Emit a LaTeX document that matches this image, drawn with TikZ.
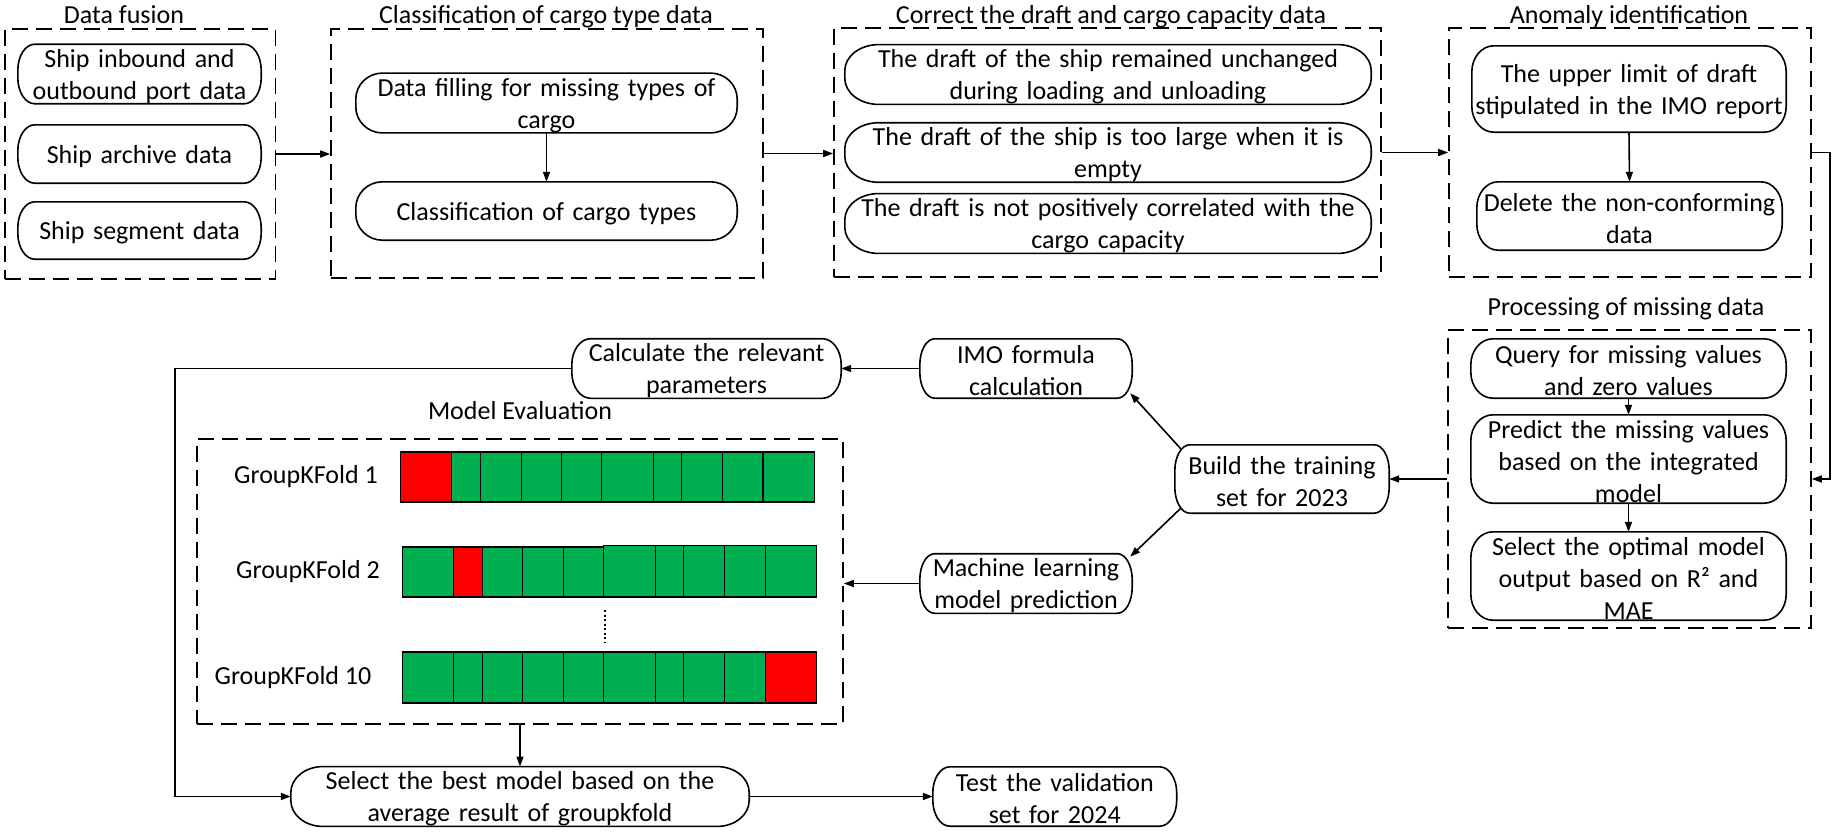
\documentclass[tikz,border=0pt]{standalone}
\usepackage{fontspec}
\setmainfont{Carlito}
\usetikzlibrary{arrows.meta,calc}
\definecolor{kgreen}{HTML}{00B050}
\definecolor{kred}{HTML}{FF0000}
\newcommand\pillshape[1]{%
  \draw[ln] let \p1=(#1.north west), \p2=(#1.south east),
    \n1={min(34pt,0.07*(\x2-\x1))}, \n2={min(26pt,0.5*(\y1-\y2))} in
  (\x1+\n1,\y1) -- (\x2-\n1,\y1)
  arc[start angle=90,end angle=0,x radius=\n1,y radius=\n2]
  -- (\x2,\y2+\n2)
  arc[start angle=0,end angle=-90,x radius=\n1,y radius=\n2]
  -- (\x1+\n1,\y2)
  arc[start angle=-90,end angle=-180,x radius=\n1,y radius=\n2]
  -- (\x1,\y1-\n2)
  arc[start angle=180,end angle=90,x radius=\n1,y radius=\n2]
  -- cycle;}
\tikzset{
  ln/.style={line width=1.6pt, draw=black},
  dbox/.style={draw, line width=1.6pt, dash pattern=on 16pt off 8pt, inner sep=0pt},
  pn/.style 2 args={draw=none, inner sep=0pt, align=center, minimum width=#1pt, text width=#1pt, minimum height=#2pt,
     text height=23pt, font=\fontsize{26}{32}\selectfont},
  ttl/.style={inner sep=0pt, anchor=base, font=\fontsize{26}{32}\selectfont},
  lbl/.style={inner sep=0pt, font=\fontsize{26}{32}\selectfont},
  arr/.style={line width=1.6pt, -{Triangle[length=10pt,width=7pt]}},
  cell/.style={line width=1.2pt, draw=black},
}
\begin{document}
\begin{tikzpicture}[x=1pt,y=-1pt]
\useasboundingbox (0,0) rectangle (1838,833);
% titles
\node[ttl] (DFt) at (124,23) {Data fusion};
\node[ttl] (CLt) at (546,23) {Classification of cargo type data};
\node[ttl] (COt) at (1111,23) {Correct the draft and cargo capacity data};
\node[ttl] (ANt) at (1629,23) {Anomaly identification};
\node[ttl] (PRt) at (1626,315) {Processing of missing data};
\node[ttl] (MEt) at (520,419) {Model Evaluation};
% dashed group boxes
\node[dbox, minimum width=270.5pt, minimum height=250pt] (DFb) at (140.25,154) {};
\node[dbox, minimum width=432pt, minimum height=249pt] (CLb) at (547,153.5) {};
\node[dbox, minimum width=547pt, minimum height=249pt] (COb) at (1107.5,152.5) {};
\node[dbox, minimum width=362pt, minimum height=249pt] (ANb) at (1630,152.5) {};
\node[dbox, minimum width=363pt, minimum height=298pt] (PRb) at (1629.5,479) {};
\node[dbox, minimum width=646pt, minimum height=285pt] (MEb) at (520,581.5) {};
% rounded nodes
\node[pn={243}{58}] (df1) at (139.5,74) {Ship inbound and\\outbound port data};
\node[pn={243}{58}] (df2) at (139.5,154) {Ship archive data};
\node[pn={243}{57}] (df3) at (139.5,230.5) {Ship segment data};
\node[pn={381}{58}] (cl1) at (546.5,103) {Data filling for missing types of\\cargo};
\node[pn={381}{58}] (cl2) at (546.5,211) {Classification of cargo types};
\node[pn={526}{57}] (co1) at (1108,74.5) {The draft of the ship remained unchanged\\during loading and unloading};
\node[pn={526}{59}] (co2) at (1108,152.5) {The draft of the ship is too large when it is\\empty};
\node[pn={526}{59}] (co3) at (1108,223.5) {The draft is not positively correlated with the\\cargo capacity};
\node[pn={314}{86}] (an1) at (1629,89) {The upper limit of draft\\stipulated in the IMO report};
\node[pn={305}{68}] (an2) at (1629.5,216) {Delete the non-conforming\\data};
\node[pn={315}{59}] (pr1) at (1628.5,368.5) {Query for missing values\\and zero values};
\node[pn={315}{88}] (pr2) at (1628.5,459) {Predict the missing values\\based on the integrated\\model};
\node[pn={315}{88}] (pr3) at (1628.5,576) {Select the optimal model\\output based on R² and\\MAE};
\node[pn={214}{68}] (build) at (1282,479) {Build the training\\set for 2023};
\node[pn={212}{59}] (imo) at (1026,368.5) {IMO formula\\calculation};
\node[pn={212}{59}] (ml) at (1026,583.5) {Machine learning\\model prediction};
\node[pn={269}{59}] (calc) at (706.5,368.5) {Calculate the relevant\\parameters};
\node[pn={458}{59}] (select) at (520,796.5) {Select the best model based on the\\average result of groupkfold};
\node[pn={243.5}{59}] (test) at (1054.75,796.5) {Test the validation\\set for 2024};
\foreach \nm in {df1,df2,df3,cl1,cl2,co1,co2,co3,an1,an2,pr1,pr2,pr3,build,imo,ml,calc,select,test}
  {\pillshape{\nm}}
% fold labels
\node[lbl] (g1) at (306,477) {GroupKFold 1};
\node[lbl] (g2) at (308,572) {GroupKFold 2};
\node[lbl] (g10) at (293,678) {GroupKFold 10};
% fold row 1
\filldraw[cell, fill=kgreen] (400.4,452) rectangle (814.2,502);
\filldraw[cell, fill=kred] (400.4,452) rectangle (451.3,502);
\foreach \x in {480.3,521.4,561.1,601.3,653.5,681.2,722.3,762.9}
  \draw[cell] (\x,452) -- (\x,502);
% fold row 2
\filldraw[cell, fill=kgreen] (402.2,547) rectangle (603.5,597);
\filldraw[cell, fill=kgreen] (603.5,545.5) rectangle (816.5,597);
\filldraw[cell, fill=kred] (453.6,547) rectangle (482.6,597);
\foreach \x in {522.3,563.4}
  \draw[cell] (\x,547) -- (\x,597);
\foreach \x in {655.3,683.4,724.5,765.1}
  \draw[cell] (\x,545.5) -- (\x,597);
% dots
\draw[line width=2pt, dash pattern=on 2pt off 2.5pt] (605,610) -- (605,642);
% fold row 10
\filldraw[cell, fill=kgreen] (402.2,652) rectangle (816.5,703);
\filldraw[cell, fill=kred] (765.1,652) rectangle (816.5,703);
\foreach \x in {453.6,482.6,522.3,563.4,603.5,655.3,683.4,724.5}
  \draw[cell] (\x,652) -- (\x,703);
% connectors
\coordinate (r1) at (1830,153);
\coordinate (r2) at (1830,479);
\coordinate (l1) at (175,369);
\draw[arr] (DFb.east) -- (DFb.east -| CLb.west);
\draw[arr] (cl1.south) -- (cl2.north);
\draw[arr] (CLb.east) -- (CLb.east -| COb.west);
\draw[arr] (COb.east) -- (COb.east -| ANb.west);
\draw[arr] (an1.south) -- (an2.north);
\draw[arr] (ANb.east) -- (ANb.east -| r1) -- (r2) -- (PRb.east);
\draw[arr] (pr1.south) -- (pr2.north);
\draw[arr] (pr2.south) -- (pr3.north);
\draw[arr] (PRb.west) -- (build.east);
\draw[arr] ($(build.north west)+(6,4)$) -- ($(imo.south east)+(-2,-5)$);
\draw[arr] ($(build.south west)+(6,-5)$) -- ($(ml.north east)+(-2,3)$);
\draw[arr] (imo.west) -- (calc.east);
\draw[arr] (calc.west) -- (calc.west -| l1) -- (l1 |- select.west) -- (select.west);
\draw[arr] (ml.west) -- (ml.west -| MEb.east);
\draw[arr] (MEb.south) -- (select.north);
\draw[arr] (select.east) -- (test.west);
\end{tikzpicture}
\end{document}
